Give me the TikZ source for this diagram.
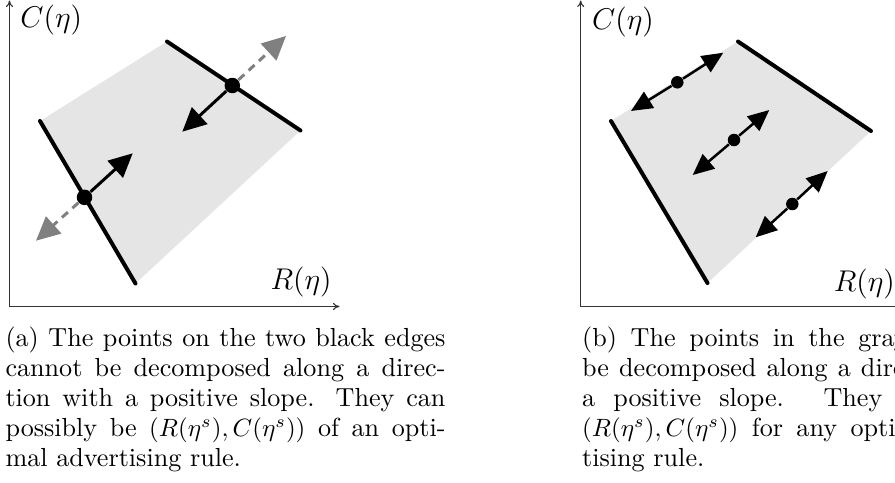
\documentclass[tikz,border=0pt]{standalone}
\usetikzlibrary{arrows.meta}
\begin{document}
\begin{tikzpicture}[x=0.4pt,y=-0.4pt,
  axis/.style={line width=0.45pt, black!80, -{To[length=2.6pt,width=2.8pt]}},
  edgeline/.style={line width=1.6pt, line cap=round},
  region/.style={fill=gray!20, draw=none},
  bigarrow/.style={line width=1.2pt, -{Triangle[length=9.5pt,width=9pt]}},
  dasharrow/.style={line width=1.2pt, gray, dash pattern=on 3.2pt off 2.4pt, -{Triangle[length=9.5pt,width=9pt]}},
  smallarrow/.style={line width=1pt, -{Triangle[length=8.5pt,width=7.5pt]}},
  bigdot/.style={circle, fill=black, inner sep=0pt, minimum size=6.2pt},
  smalldot/.style={circle, fill=black, inner sep=0pt, minimum size=5pt},
  lab/.style={inner sep=0pt, anchor=base west, font=\fontsize{11.5}{13}\selectfont},
  captext/.style={inner sep=0pt, text width=176pt, align=justify, anchor=north west, font=\fontsize{10.45}{12}\selectfont}
]
\useasboundingbox (0,0) rectangle (895,482);

% ---------- panel (a) ----------
\coordinate (aO) at (9.5,306.5);
\coordinate (aY) at (9.5,0.5);
\coordinate (aX) at (339.5,306.5);
\coordinate (aA) at (40,121);
\coordinate (aB) at (167,41.5);
\coordinate (aC) at (300.5,130.5);
\coordinate (aD) at (135.5,283.5);
\fill[region] (aA) -- (aB) -- (aC) -- (aD) -- cycle;
\draw[edgeline] (aA) -- (aD);
\draw[edgeline] (aB) -- (aC);
\draw[axis] (aO) -- (aY);
\draw[axis] (aO) -- (aX);
\node[lab] (aCl) at (20,27) {$C(\eta)$};
\node[lab] (aRl) at (270,289) {$R(\eta)$};

\node[bigdot] (ad1) at (84.5,197.3) {};
\node[bigdot] (ad2) at (232.3,85.5) {};
\coordinate (ad1u) at (132.7,153.3);
\coordinate (ad1d) at (36,240.7);
\coordinate (ad2d) at (182.3,131.7);
\coordinate (ad2u) at (286,36);
\draw[dasharrow] (ad1) -- (ad1d);
\draw[dasharrow] (ad2) -- (ad2u);
\draw[bigarrow] (ad1) -- (ad1u);
\draw[bigarrow] (ad2) -- (ad2d);

\node[captext] (acap) at (5,326.6) {(a) The points on the two black edges\linebreak cannot be decomposed along a direc-\linebreak tion with a positive slope. They can\linebreak possibly be $(R(\eta^s),C(\eta^s))$ of an opti-\linebreak mal advertising rule.};

% ---------- panel (b) ----------
\begin{scope}
\clip (0,0) rectangle (895,482);
\coordinate (bO) at (580.7,306.5);
\coordinate (bY) at (580.7,0.5);
\coordinate (bX) at (910,306.5);
\coordinate (bA) at (611,121);
\coordinate (bB) at (738,41.5);
\coordinate (bC) at (871,131);
\coordinate (bD) at (707.5,283);
\fill[region] (bA) -- (bB) -- (bC) -- (bD) -- cycle;
\draw[edgeline] (bA) -- (bD);
\draw[edgeline] (bB) -- (bC);
\draw[axis] (bO) -- (bY);
\draw[axis] (bO) -- (bX);
\node[lab] (bCl) at (591.7,29) {$C(\eta)$};
\node[lab] (bRl) at (833.3,291) {$R(\eta)$};

\node[smalldot] (bd1) at (677.3,82.3) {};
\node[smalldot] (bd2) at (734,140) {};
\node[smalldot] (bd3) at (792.3,204) {};
\coordinate (bd1u) at (723.3,52.7);
\coordinate (bd1d) at (631,111);
\coordinate (bd2u) at (769.3,110);
\coordinate (bd2d) at (692.7,175);
\coordinate (bd3u) at (827.7,171);
\coordinate (bd3d) at (755.7,237.3);
\draw[smallarrow] (bd1) -- (bd1u);
\draw[smallarrow] (bd1) -- (bd1d);
\draw[smallarrow] (bd2) -- (bd2u);
\draw[smallarrow] (bd2) -- (bd2d);
\draw[smallarrow] (bd3) -- (bd3u);
\draw[smallarrow] (bd3) -- (bd3d);

\node[captext] (bcap) at (581.7,326.6) {(b) The points in the gray area can\linebreak be decomposed along a direction with\linebreak a positive slope. They cannot be\linebreak $(R(\eta^s),C(\eta^s))$ for any optimal adver-\linebreak tising rule.};
\end{scope}
\end{tikzpicture}
\end{document}
